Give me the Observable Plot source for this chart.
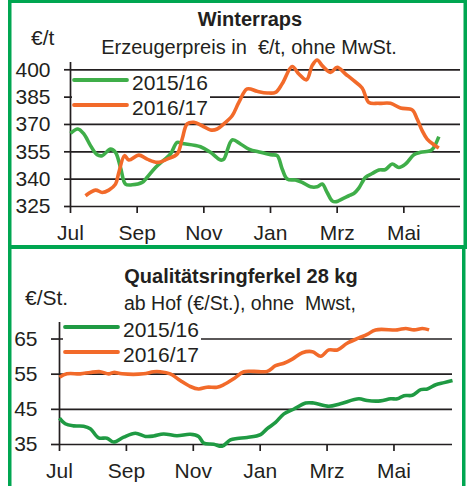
<!DOCTYPE html>
<html>
<head>
<meta charset="utf-8">
<script src="https://cdn.jsdelivr.net/npm/d3@7"></script>
<script src="https://cdn.jsdelivr.net/npm/@observablehq/plot@0.6"></script>
<style>
  html, body { margin: 0; padding: 0; background: #fff; }
  #wrap { position: relative; width: 467px; height: 486px; overflow: hidden; background: #fff; font-family: "Liberation Sans", Arial, sans-serif; }
  #wrap > .layer { position: absolute; left: 0; }
</style>
</head>
<body>
<div id="wrap">
  <div id="p1" class="layer" style="top:0"></div>
  <div id="p2" class="layer" style="top:249px"></div>
</div>
<script>
// ---------- DATA ----------
// x = months since 1 July (0 = Jul, 2 = Sep, ...)
const monthTicks = [0, 2, 4, 6, 8, 10];
const monthLabels = ["Jul", "Sep", "Nov", "Jan", "Mrz", "Mai"];
const seriesNames = ["2015/16", "2016/17"];

// Winterraps, Erzeugerpreis €/t
const rapsTicks = [325, 340, 355, 370, 385, 400];
const raps1516X = [0.00,0.22,0.40,0.60,0.80,0.95,1.20,1.35,1.50,1.65,1.85,2.15,2.30,2.55,2.80,3.00,3.20,3.35,3.90,4.20,4.50,4.60,4.85,5.10,5.35,5.70,6.00,6.20,6.35,6.50,6.75,6.95,7.20,7.40,7.55,7.70,7.85,7.95,8.20,8.35,8.50,8.65,8.85,9.05,9.25,9.45,9.65,9.85,10.05,10.30,10.50,10.80,10.90,11.05];
const raps1516Y = [365.1,367.5,364.8,358.4,353.4,352.9,356.5,354.7,346.4,337.3,336.9,338.2,341.0,346.4,350.5,353.8,360.2,359.6,357.8,354.7,350.5,351.0,361.5,359.3,356.5,354.7,353.4,352.9,345.6,340.1,339.5,338.2,335.8,335.8,337.3,332.7,328.1,327.6,329.6,330.9,332.1,335.1,341.0,343.1,345.0,345.3,348.3,346.4,348.3,353.4,354.7,355.6,357.4,363.3];
const raps1617X = [0.45,0.75,0.95,1.15,1.35,1.45,1.62,1.75,2.05,2.30,2.60,2.90,3.20,3.35,3.50,3.70,3.95,4.20,4.40,4.60,4.85,5.05,5.30,5.60,5.90,6.15,6.35,6.65,6.85,7.08,7.25,7.40,7.55,7.80,8.00,8.25,8.50,8.75,8.95,9.25,9.60,9.90,10.25,10.40,10.55,10.70,10.90,11.05];
const raps1617Y = [330.9,334.0,332.7,334.0,337.3,343.7,352.9,350.5,353.2,351.0,349.2,351.0,353.8,362.0,370.3,371.2,369.3,367.0,367.5,370.3,374.8,382.1,389.5,388.2,387.3,387.6,392.3,401.8,397.7,394.5,402.3,405.4,402.3,398.6,401.4,397.7,394.0,390.0,382.1,381.6,381.6,379.0,378.0,373.0,366.6,362.0,358.9,357.1];

// Qualitätsringferkel 28 kg, €/St.
const ferkTicks = [35, 45, 55, 65];
const ferk1516X = [0.00,0.17,0.42,0.72,0.92,1.17,1.42,1.62,1.92,2.27,2.57,2.81,3.11,3.51,3.91,4.16,4.31,4.61,4.86,5.11,5.31,5.61,6.01,6.21,6.46,6.71,7.01,7.36,7.60,8.05,8.40,8.95,9.20,9.60,9.90,10.10,10.30,10.55,10.80,11.00,11.25,11.50,11.75];
const ferk1516Y = [42.5,40.9,40.3,40.2,39.5,36.9,36.8,35.7,37.1,38.2,37.3,37.4,38.0,37.5,37.9,37.3,35.4,35.1,34.5,36.3,36.7,37.0,37.8,39.5,41.3,43.7,45.1,46.8,46.8,45.9,46.6,48.0,47.5,47.4,48.0,48.0,48.9,49.0,50.6,50.8,52.0,52.6,53.2];
const ferk1617X = [0.00,0.22,0.62,0.92,1.22,1.47,1.62,1.87,2.51,2.81,3.01,3.31,3.61,3.91,4.16,4.41,4.71,4.91,5.21,5.51,5.81,6.21,6.46,6.71,6.96,7.26,7.56,7.81,8.05,8.31,8.60,8.95,9.20,9.45,10.10,10.35,10.60,10.85,11.05];
const ferk1617Y = [54.1,55.1,55.1,55.5,55.7,55.1,55.5,55.1,55.1,55.7,55.7,55.1,53.2,51.5,50.8,51.3,51.3,52.0,53.7,55.7,55.8,55.8,57.4,58.1,59.3,61.1,61.4,60.1,61.9,61.9,63.8,65.3,66.3,67.6,67.6,68.0,67.6,68.0,67.6];

// ---------- STYLE ----------
const ink = "#231f20";
const frameGreen = "#00a651";
const rapsColors = ["#3fae49", "#f26a2a"];
const ferkColors = ["#1f9a43", "#f26a2a"];
const FONT = "Liberation Sans, Arial, sans-serif";

const zip = (xs, ys, s) => xs.map((x, i) => ({x, y: ys[i], s}));
const monthFmt = d => monthLabels[monthTicks.indexOf(d)];

function chart({data, colors, yTicks, yDomain, xDomain, height, mL, mR, mT, mB, ySize}) {
  return Plot.plot({
    width: 467, height,
    marginLeft: mL, marginRight: mR, marginTop: mT, marginBottom: mB,
    style: {fontFamily: FONT, fontSize: "21px", color: ink, background: "transparent", overflow: "visible"},
    x: {domain: xDomain, axis: null},
    y: {domain: yDomain, axis: null},
    color: {domain: seriesNames, range: colors},
    marks: [
      Plot.ruleY(yTicks, {stroke: ink, strokeWidth: 1.7}),
      Plot.ruleX([xDomain[0]], {stroke: ink, strokeWidth: 1.7}),
      Plot.axisY({ticks: yTicks, tickSize: ySize, tickPadding: 14, strokeWidth: 1.7, fontSize: 21, label: null, stroke: ink}),
      Plot.axisX({ticks: monthTicks, tickFormat: monthFmt, tickSize: 7, tickPadding: 12, strokeWidth: 1.7, fontSize: 21, label: null, stroke: ink}),
      Plot.line(data, {x: "x", y: "y", z: "s", stroke: "s", strokeWidth: 3.6, curve: "catmull-rom", strokeLinejoin: "round", strokeLinecap: "butt", clip: false})
    ]
  });
}

const rapsData = [...zip(raps1516X, raps1516Y, seriesNames[0]), ...zip(raps1617X, raps1617Y, seriesNames[1])];
const ferkData = [...zip(ferk1516X, ferk1516Y, seriesNames[0]), ...zip(ferk1617X, ferk1617Y, seriesNames[1])];

document.getElementById("p1").append(chart({
  data: rapsData, colors: rapsColors, yTicks: rapsTicks, yDomain: [325, 404], xDomain: [0, 11.7],
  height: 245, mL: 70, mR: 7, mT: 62, mB: 39, ySize: 6
}));
document.getElementById("p2").append(chart({
  data: ferkData, colors: ferkColors, yTicks: ferkTicks, yDomain: [35, 69.7], xDomain: [0, 11.75],
  height: 237, mL: 59, mR: 15, mT: 73, mB: 42, ySize: 8
}));

// ---------- OVERLAY: frame, titles, legends ----------
const svg = d3.select("#wrap").append("svg")
  .attr("width", 467).attr("height", 486)
  .style("position", "absolute").style("left", 0).style("top", 0)
  .style("font-family", FONT).style("fill", ink);

function legend(x0, y0, colors, boxW, boxH) {
  const g = svg.append("g").attr("transform", `translate(${x0},${y0})`);
  g.append("rect").attr("x", -2).attr("y", -9).attr("width", boxW).attr("height", boxH).attr("fill", "#fff");
  seriesNames.forEach((name, i) => {
    const yy = i * 25;
    g.append("line").attr("x1", 0).attr("x2", 53).attr("y1", yy).attr("y2", yy)
      .attr("stroke", colors[i]).attr("stroke-width", 3.8).attr("stroke-linecap", "round");
    g.append("text").attr("x", 58).attr("y", yy + 10).attr("font-size", 21).text(name);
  });
}
legend(74, 80, rapsColors, 138, 49);
legend(65, 327, ferkColors, 138, 40);

svg.append("text").attr("x", 250).attr("y", 26).attr("text-anchor", "middle").attr("font-size", 20).attr("font-weight", "bold").text("Winterraps");
svg.append("text").attr("x", 31).attr("y", 45).attr("font-size", 21).text("€/t");
svg.append("text").attr("x", 249).attr("y", 54).attr("text-anchor", "middle").attr("font-size", 20).attr("xml:space", "preserve").text("Erzeugerpreis in  €/t, ohne MwSt.");

svg.append("text").attr("x", 241).attr("y", 283).attr("text-anchor", "middle").attr("font-size", 20).attr("font-weight", "bold").text("Qualitätsringferkel 28 kg");
svg.append("text").attr("x", 25).attr("y", 305).attr("font-size", 21).text("€/St.");
svg.append("text").attr("x", 124).attr("y", 310).attr("font-size", 19.5).attr("xml:space", "preserve").text("ab Hof (€/St.), ohne  Mwst,");

// frame
const fr = [
  [8, 0, 459, 3],        // top
  [8, 0, 3.5, 486],      // left
  [463.5, 0, 3.5, 248],  // right (upper)
  [462, 245, 3.5, 241],  // right (lower)
  [8, 245, 459, 4]       // middle band
];
svg.selectAll("rect.frame").data(fr).join("rect").attr("class", "frame")
  .attr("x", d => d[0]).attr("y", d => d[1]).attr("width", d => d[2]).attr("height", d => d[3])
  .attr("fill", frameGreen);
</script>
</body>
</html>
